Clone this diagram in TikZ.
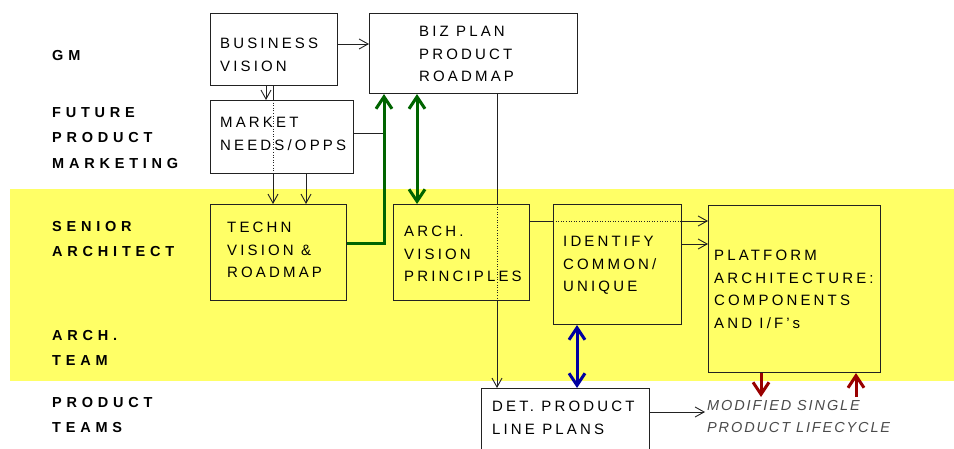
\documentclass[tikz,border=0pt]{standalone}
\usepackage{fontspec}
\usetikzlibrary{arrows.meta}
\newfontfamily\boxfont[LetterSpace=21]{Liberation Sans}
\newfontfamily\labfont[LetterSpace=33]{Liberation Sans}
\newfontfamily\notefont[LetterSpace=13]{Liberation Sans}
\definecolor{bandyellow}{HTML}{FFFF66}
\definecolor{linegray}{HTML}{222222}
\definecolor{notegray}{HTML}{4A4A4A}
\definecolor{flowgreen}{HTML}{006400}
\definecolor{flowblue}{HTML}{0000A0}
\definecolor{flowred}{HTML}{990000}
\tikzset{
  box/.style={draw=linegray, line width=1.1pt, inner sep=0pt, anchor=north west},
  boxtext/.style={anchor=north west, inner sep=0pt, align=left, text=black,
    font=\boxfont\fontsize{15}{22.6}\selectfont},
  lanetext/.style={anchor=north west, inner sep=0pt, align=left, text=black,
    font=\labfont\bfseries\fontsize{14.5}{25.5}\selectfont},
  notetext/.style={anchor=north west, inner sep=0pt, align=left, text=notegray,
    font=\notefont\itshape\fontsize{14.5}{22.6}\selectfont},
  thinline/.style={draw=linegray, line width=0.9pt},
  dotline/.style={draw=linegray, line width=0.6pt, dotted},
  thinarrow/.style={thinline, -{Straight Barb[length=9pt,width=10pt,line width=0.9pt]}},
  fatarrow/.style={line width=3pt, -{Straight Barb[length=12pt,width=16pt,line width=3pt]}},
  fatboth/.style={line width=3pt, {Straight Barb[length=12pt,width=16pt,line width=3pt]}-{Straight Barb[length=12pt,width=16pt,line width=3pt]}},
}
\begin{document}
\begin{tikzpicture}[x=1pt, y=-1pt]
\useasboundingbox (0,0) rectangle (954,449);
\clip (0,0) rectangle (954,449);

% architecture lanes
\fill[bandyellow] (10,189) rectangle (954,381);

% lane labels
\node[lanetext] (lgm) at (52,50) {GM};
\node[lanetext] (lfpm) at (52,107) {FUTURE\\PRODUCT\\MARKETING};
\node[lanetext] (lsa) at (52,221) {SENIOR\\ARCHITECT};
\node[lanetext] (lat) at (52,330) {ARCH.\\TEAM};
\node[lanetext] (lpt) at (52,397) {PRODUCT\\TEAMS};

% process boxes
\node[box, minimum width=127pt, minimum height=72pt] (bv) at (210,13) {};
\node[box, minimum width=208pt, minimum height=80pt] (bp) at (369,13) {};
\node[box, minimum width=143pt, minimum height=73pt] (mn) at (210,100) {};
\node[box, minimum width=136pt, minimum height=96pt] (tv) at (210,204) {};
\node[box, minimum width=136pt, minimum height=96pt] (av) at (393,204) {};
\node[box, minimum width=128pt, minimum height=120pt] (id) at (553,204) {};
\node[box, minimum width=172pt, minimum height=167pt] (pa) at (708,205) {};
\node[box, minimum width=168pt, minimum height=90pt] (dp) at (481,388) {};

% box texts
\node[boxtext] (tbv) at (220,38) {BUSINESS\\VISION};
\node[boxtext] (tbp) at (419,26) {BIZ PLAN\\PRODUCT\\ROADMAP};
\node[boxtext] (tmn) at (220,117) {MARKET\\NEEDS/OPPS};
\node[boxtext] (ttv) at (227,222) {TECHN\\VISION \&\\ROADMAP};
\node[boxtext] (tav) at (404,226) {ARCH.\\VISION\\PRINCIPLES};
\node[boxtext] (tid) at (563,236) {IDENTIFY\\COMMON/\\UNIQUE};
\node[boxtext] (tpa) at (714,250) {PLATFORM\\ARCHITECTURE:\\COMPONENTS\\AND I/F’s};
\node[boxtext] (tdp) at (492,401) {DET. PRODUCT\\LINE PLANS};
\node[notetext] (note) at (707,400) {MODIFIED SINGLE\\PRODUCT LIFECYCLE};

% thin flows
\draw[thinarrow] (bv.east |- 0,44) -- (bp.west |- 0,44);
\draw[thinarrow] (bv.south -| 266,0) -- (mn.north -| 266,0);
\draw[thinline] (bv.south -| 273,0) -- (mn.north -| 273,0);
\draw[dotline] (mn.north -| 273,0) -- (mn.south -| 273,0);
\draw[thinarrow] (mn.south -| 273,0) -- (tv.north -| 273,0);
\draw[thinarrow] (mn.south -| 306,0) -- (tv.north -| 306,0);

\coordinate (gk) at (384,244);
\draw[thinline] (mn.east |- 0,133) -- (gk |- 0,133);

\draw[thinline] (bp.south -| 497,0) -- (av.north -| 497,0);
\draw[dotline] (av.north -| 497,0) -- (av.south -| 497,0);
\draw[thinarrow] (av.south -| 497,0) -- (dp.north -| 497,0);

\draw[thinline] (av.east |- 0,221) -- (id.west |- 0,221);
\draw[dotline] (id.west |- 0,221) -- (id.east |- 0,221);
\draw[thinarrow] (id.east |- 0,221) -- (pa.west |- 0,221);
\draw[thinarrow] (id.east |- 0,244) -- (pa.west |- 0,244);

\draw[thinarrow] (dp.east |- 0,412) -- (705,412);

% heavy flows
\draw[fatarrow, draw=flowgreen] (tv.east |- gk) -- (gk) -- (bp.south -| gk);
\draw[fatboth, draw=flowgreen] (bp.south -| 417,0) -- (av.north -| 417,0);
\draw[fatboth, draw=flowblue] (id.south -| 577,0) -- (dp.north -| 577,0);

\coordinate (rd) at (761,397);
\coordinate (ru) at (856,397);
\draw[fatarrow, draw=flowred] (pa.south -| rd) -- (rd);
\draw[fatarrow, draw=flowred] (ru) -- (pa.south -| ru);
\end{tikzpicture}
\end{document}
